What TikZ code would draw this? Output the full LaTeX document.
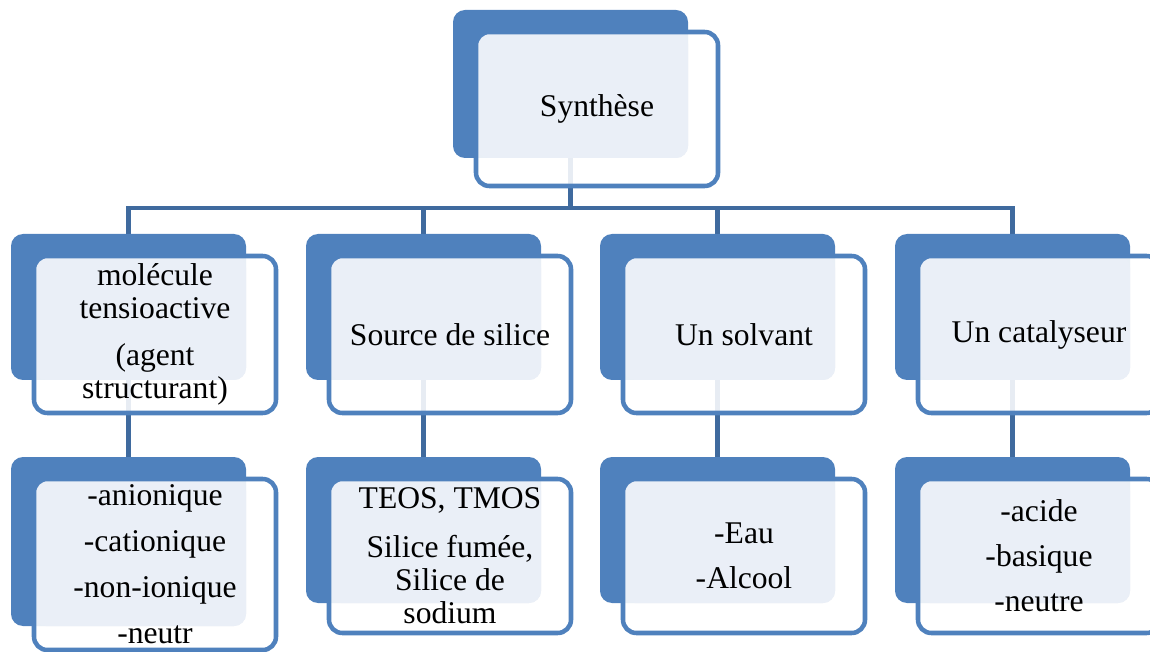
\documentclass[tikz,border=0pt]{standalone}
\usepackage{fontspec}
\setmainfont{Liberation Serif}
\pgfdeclarelayer{links}
\pgfdeclarelayer{backs}
\pgfdeclarelayer{fills}
\pgfsetlayers{links,backs,fills,main}
\definecolor{boxblue}{HTML}{4F81BD}
\definecolor{linkblue}{HTML}{3F6A9E}
\definecolor{paleblue}{HTML}{EAEFF7}
\tikzset{
  backbox/.style={fill=boxblue, rounded corners=9pt, anchor=north west,
    inner sep=0pt, outer sep=0pt, minimum width=176.25pt, minimum height=109.5pt},
  frontbox/.style={draw=boxblue, line width=3.4pt, rounded corners=10pt,
    anchor=north west, inner sep=0pt, outer sep=0pt, minimum width=181.5pt,
    minimum height=115.5pt, align=center,
    font=\fontsize{23.7}{24.75}\selectfont},
  link/.style={draw=linkblue, line width=3.6pt},
}
\begin{document}
\begin{tikzpicture}[x=0.75pt, y=-0.75pt]
\useasboundingbox (0,0) rectangle (1150,652);
\clip (0,0) rectangle (1150,652);

% front boxes and their texts
\node[frontbox] (f-syn) at (476,32) {Synthèse};
\node[frontbox, minimum height=117.75pt] (f-mol) at (34,256)
  {molécule\\tensioactive\\[11pt](agent\\structurant)};
\node[frontbox, minimum height=117.75pt] (f-src) at (329,256) {Source de silice};
\node[frontbox, minimum height=117.75pt] (f-sol) at (623,256) {Un solvant};
\node[frontbox, minimum height=117.75pt] (f-cat) at (918,256) {Un catalyseur};
\node[frontbox, minimum height=128.25pt] (f-an) at (34,479)
  {-anionique\\[9.75pt]-cationique\\[9.75pt]-non-ionique\\[9.75pt]-neutr};
\node[frontbox] (f-tet) at (329,479)
  {TEOS, TMOS\\[12pt]Silice fumée,\\Silice de\\sodium};
\node[frontbox] (f-eau) at (623,479) {-Eau\\[9pt]-Alcool};
\node[frontbox] (f-aci) at (918,479) {-acide\\[9pt]-basique\\[9pt]-neutre};

% back boxes
\begin{pgfonlayer}{backs}
  \node[backbox, minimum height=111pt] (b-syn) at (453,10) {};
  \node[backbox] (b-mol) at (11,234) {};
  \node[backbox] (b-src) at (306,234) {};
  \node[backbox] (b-sol) at (600,234) {};
  \node[backbox] (b-cat) at (895,234) {};
  \node[backbox, minimum height=126.75pt] (b-an) at (11,457) {};
  \node[backbox] (b-tet) at (306,457) {};
  \node[backbox] (b-eau) at (600,457) {};
  \node[backbox] (b-aci) at (895,457) {};
\end{pgfonlayer}

% fills of the front boxes
\begin{pgfonlayer}{fills}
  \foreach \n in {syn,mol,src,sol,cat,an,tet,eau,aci} {
    \fill[white, fill opacity=0.88, rounded corners=10pt]
      (f-\n.north west) rectangle (f-\n.south east);
    \fill[paleblue, rounded corners=9pt]
      (f-\n.north west) rectangle (b-\n.south east);
  }
\end{pgfonlayer}

% connectors
\begin{pgfonlayer}{links}
  \coordinate (bar) at (0,208);
  \draw[link] (b-syn.center) -- (b-syn.center |- bar);
  \draw[link] (b-mol.north) |- (bar -| b-cat.north) -- (b-cat.north);
  \draw[link] (b-src.north) -- (bar -| b-src.north);
  \draw[link] (b-sol.north) -- (bar -| b-sol.north);
  \foreach \a/\b in {mol/an, src/tet, sol/eau, cat/aci}
    \draw[link] (b-\a.center) -- (b-\b.north);
\end{pgfonlayer}
\end{tikzpicture}
\end{document}
